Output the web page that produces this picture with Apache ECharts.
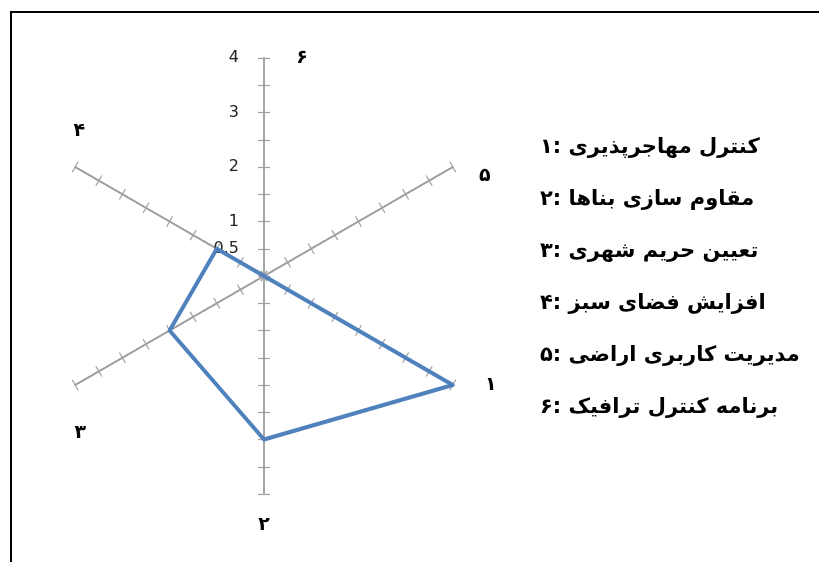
<!DOCTYPE html>
<html lang="fa">
<head>
<meta charset="UTF-8">
<title>radar</title>
<script src="https://cdn.jsdelivr.net/npm/echarts@6/dist/echarts.min.js"></script>
<style>
    html, body { margin: 0; padding: 0; background: #fff; }
    #main { width: 819px; height: 562px; }
</style>
</head>
<body>
<div id="main"></div>
<script>
    // axis names in echarts order: top first, then counter-clockwise
    var axisNames = ['۶', '۴', '۳', '۲', '۱', '۵'];
    var scores = [0, 1, 2, 3, 4, 0];
    var maxScore = 4;
    var tickLabels = ['0.5', '1', '2', '3', '4'];
    var legendLines = [
        'کنترل مهاجرپذیری :۱',
        'مقاوم سازی بناها :۲',
        'تعیین حریم شهری :۳',
        'افزایش فضای سبز :۴',
        'مدیریت کاربری اراضی :۵',
        'برنامه کنترل ترافیک :۶'
    ];

    // how far each axis name sits from the end of its axis (dx, dy)
    var nameShift = [[38, 2], [4, -37], [5, 50], [0, 33], [38, 2], [32, 8]];

    // zrender only honours vertical padding for top/bottom aligned text
    function nameStyle(d) {
        var dx = d[0], dy = d[1], half = 11;
        var st = {align: 'center', verticalAlign: 'middle', padding: [0, Math.max(0, -2 * dx), 0, Math.max(0, 2 * dx)]};
        if (dy > 5) {
            st.verticalAlign = 'top';
            st.padding[0] = Math.max(0, dy - half);
        } else if (dy < -5) {
            st.verticalAlign = 'bottom';
            st.padding[2] = Math.max(0, -dy - half);
        }
        return st;
    }

    var axisGray = '#a0a0a0';

    function indicators(showNames) {
        return axisNames.map(function (n, i) {
            return {
                name: showNames ? n : '',
                min: 0,
                max: maxScore,
                nameGap: 0,
                nameTextStyle: nameStyle(nameShift[i]),
                axisLabel: {show: showNames && i === 0}
            };
        });
    }

    // radar ticks only go one way, so two radars (tick length +6 / -6) make crossed ticks
    function radarBase(showNames, tickLen) {
        return {
            center: [264, 276],
            radius: 218,
            startAngle: 90,
            shape: 'polygon',
            splitNumber: 8,
            indicator: indicators(showNames),
            axisNameGap: 0,
            axisName: {
                show: showNames,
                color: '#000',
                fontFamily: 'DejaVu Sans',
                fontWeight: 'bold',
                fontSize: 19
            },
            axisLine: {lineStyle: {color: axisGray, width: 1.5}},
            axisTick: {show: true, length: tickLen, lineStyle: {color: axisGray, width: 1.2}},
            axisLabel: {
                show: showNames,
                margin: 25,
                color: '#222',
                fontFamily: 'DejaVu Sans',
                fontSize: 16,
                formatter: function (v) {
                    var s = String(v);
                    return tickLabels.indexOf(s) >= 0 ? s : '';
                }
            },
            splitLine: {show: false},
            splitArea: {show: false}
        };
    }

    var myChart = echarts.init(document.getElementById('main'));

    var legendTexts = legendLines.map(function (t, i) {
        return {
            type: 'text',
            x: 540,
            y: 148 + i * 52,
            style: {
                text: t,
                fill: '#000',
                font: 'bold 21px "DejaVu Sans"',
                textAlign: 'left',
                textVerticalAlign: 'middle'
            }
        };
    });

    var option = {
        animation: false,
        backgroundColor: '#fff',
        radar: [radarBase(true, 6), radarBase(false, -6)],
        graphic: [{
            type: 'rect',
            shape: {x: 11, y: 12, width: 1000, height: 1000},
            style: {fill: 'none', stroke: '#000', lineWidth: 2}
        }].concat(legendTexts),
        series: [{
            type: 'radar',
            radarIndex: 0,
            symbol: 'none',
            z: 5,
            lineStyle: {color: '#4f81bd', width: 4},
            data: [{value: scores}]
        }]
    };
    myChart.setOption(option);
</script>
</body>
</html>
